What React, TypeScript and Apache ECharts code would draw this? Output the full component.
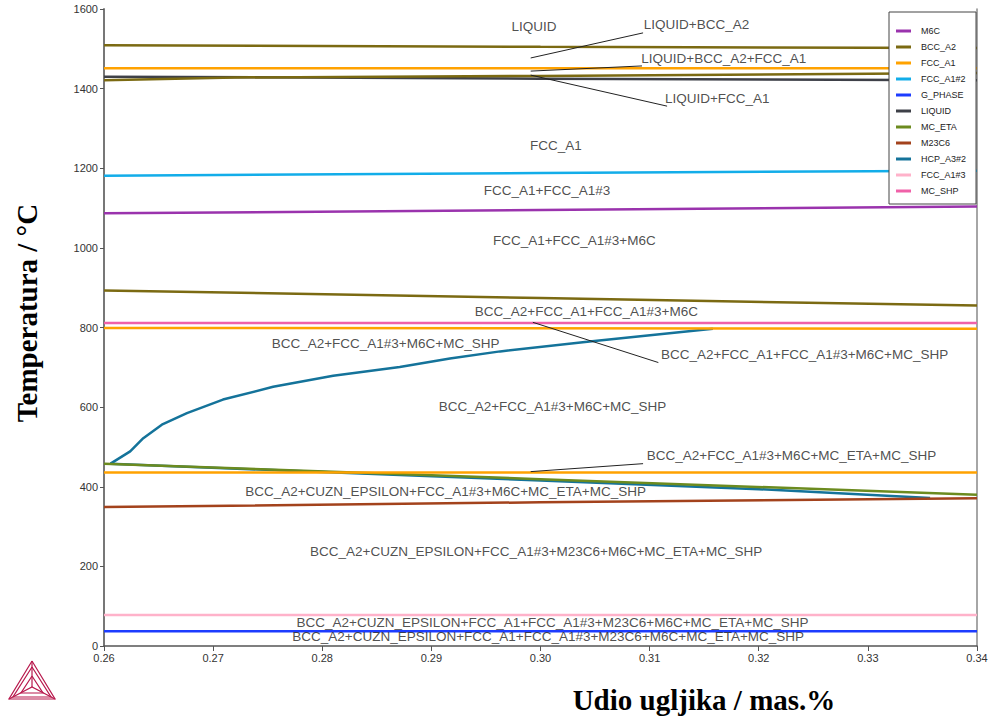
import React, { useEffect, useRef } from 'react';
import * as echarts from 'echarts';

// ---- phases (legend order) ----
const phases = ['M6C', 'BCC_A2', 'FCC_A1', 'FCC_A1#2', 'G_PHASE', 'LIQUID', 'MC_ETA', 'M23C6', 'HCP_A3#2', 'FCC_A1#3', 'MC_SHP'];

// ---- phase boundary lines: [mas.% C, °C] ----
const m6c = [[0.26, 1087], [0.30, 1095], [0.34, 1104]];
const bccA2Upper = [[0.26, 1509], [0.30, 1505], [0.34, 1502]];
const bccA2Lower = [[0.26, 1421], [0.272, 1428], [0.30, 1432], [0.34, 1439]];
const bccA2Mid = [[0.26, 893], [0.30, 874], [0.34, 855]];
const fccA1High = [[0.26, 1451], [0.34, 1451]];
const fccA1At800 = [[0.26, 799], [0.34, 797]];
const fccA1At436 = [[0.26, 436], [0.34, 436]];
const fccA1n2 = [[0.26, 1181], [0.30, 1188], [0.34, 1194]];
const gPhase = [[0.26, 37], [0.34, 37]];
const liquid = [[0.26, 1430], [0.30, 1425], [0.34, 1421]];
const mcEta = [[0.26, 458], [0.30, 419], [0.34, 380]];
const m23c6 = [[0.26, 349], [0.30, 361], [0.34, 371]];
const hcpUpper = [[0.2606, 458], [0.2624, 489], [0.2636, 522], [0.2653, 556], [0.2676, 585], [0.2709, 619], [0.2755, 651], [0.281, 679], [0.2871, 701], [0.2917, 722], [0.2963, 740], [0.3045, 765], [0.3158, 797]];
const hcpLower = [[0.2606, 458], [0.28, 437], [0.30, 416], [0.32, 394], [0.3357, 372]];
const fccA1n3 = [[0.26, 78], [0.34, 78]];
const mcShp = [[0.26, 811], [0.34, 811]];

// ---- region labels ----
const regionLabels = [
  'LIQUID',
  'LIQUID+BCC_A2',
  'LIQUID+BCC_A2+FCC_A1',
  'LIQUID+FCC_A1',
  'FCC_A1',
  'FCC_A1+FCC_A1#3',
  'FCC_A1+FCC_A1#3+M6C',
  'BCC_A2+FCC_A1+FCC_A1#3+M6C',
  'BCC_A2+FCC_A1#3+M6C+MC_SHP',
  'BCC_A2+FCC_A1+FCC_A1#3+M6C+MC_SHP',
  'BCC_A2+FCC_A1#3+M6C+MC_SHP',
  'BCC_A2+FCC_A1#3+M6C+MC_ETA+MC_SHP',
  'BCC_A2+CUZN_EPSILON+FCC_A1#3+M6C+MC_ETA+MC_SHP',
  'BCC_A2+CUZN_EPSILON+FCC_A1#3+M23C6+M6C+MC_ETA+MC_SHP',
  'BCC_A2+CUZN_EPSILON+FCC_A1+FCC_A1#3+M23C6+M6C+MC_ETA+MC_SHP',
  'BCC_A2+CUZN_EPSILON+FCC_A1+FCC_A1#3+M23C6+M6C+MC_ETA+MC_SHP',
];
const regionLabelC = [0.2994, 0.3143, 0.3168, 0.3162, 0.3014, 0.3006, 0.3031, 0.3042, 0.2858, 0.3242, 0.3011, 0.3230, 0.2913, 0.2996, 0.3011, 0.3007];
const regionLabelT = [1555, 1562, 1476, 1374, 1258, 1145, 1019, 840, 760, 732, 601, 478, 387, 237, 60, 23];

// ---- annotation arrows: from [C, T] to [C, T] ----
const arrowFrom = [[0.3094, 1540], [0.3093, 1457], [0.3116, 1356], [0.3108, 712], [0.3094, 458]];
const arrowTo = [[0.2991, 1477], [0.2991, 1444], [0.2991, 1434], [0.2993, 813], [0.2991, 438]];

const colors: Record<string, string> = {
  'M6C': '#9a33ad',
  'BCC_A2': '#7b6a12',
  'FCC_A1': '#ffa200',
  'FCC_A1#2': '#12ade9',
  'G_PHASE': '#1d3cff',
  'LIQUID': '#3e4048',
  'MC_ETA': '#6c8b1f',
  'M23C6': '#a3421c',
  'HCP_A3#2': '#14739a',
  'FCC_A1#3': '#ffb2ca',
  'MC_SHP': '#f061a8',
};

// draw order (later on top)
const segments: [string, number[][]][] = [
  ['HCP_A3#2', hcpUpper],
  ['HCP_A3#2', hcpLower],
  ['M23C6', m23c6],
  ['FCC_A1#3', fccA1n3],
  ['G_PHASE', gPhase],
  ['MC_ETA', mcEta],
  ['FCC_A1#2', fccA1n2],
  ['M6C', m6c],
  ['LIQUID', liquid],
  ['BCC_A2', bccA2Upper],
  ['BCC_A2', bccA2Lower],
  ['BCC_A2', bccA2Mid],
  ['MC_SHP', mcShp],
  ['FCC_A1', fccA1High],
  ['FCC_A1', fccA1At800],
  ['FCC_A1', fccA1At436],
];

const SANS = '"Liberation Sans", Arial, sans-serif';
const SERIF = '"Liberation Serif", "Times New Roman", serif';

export default function App() {
  const ref = useRef<HTMLDivElement>(null);
  useEffect(() => {
    if (!ref.current) return;
    const chart = echarts.init(ref.current, undefined, { renderer: 'svg' });
    const lineSeries = segments.map(([name, data]) => ({
      type: 'line',
      name,
      data,
      showSymbol: false,
      symbol: 'none',
      silent: true,
      smooth: false,
      color: colors[name],
      lineStyle: { color: colors[name], width: 2.5 },
      emphasis: { disabled: true },
      z: 2,
    }));
    const labelSeries = {
      type: 'scatter',
      name: 'labels',
      symbolSize: 0,
      silent: true,
      z: 5,
      data: regionLabels.map((t, i) => ({ value: [regionLabelC[i], regionLabelT[i]], name: t })),
      label: {
        show: true,
        position: 'inside',
        formatter: '{b}',
        fontSize: 13.5,
        fontFamily: SANS,
        color: '#222',
      },
      markLine: {
        silent: true,
        symbol: ['none', 'arrow'],
        symbolSize: [0, 8],
        lineStyle: { color: '#222', width: 1, type: 'solid' },
        label: { show: false },
        emphasis: { disabled: true },
        data: arrowFrom.map((f, i) => [{ coord: f }, { coord: arrowTo[i] }]),
      },
    };
    const logoStyle = { stroke: '#b8194d', lineWidth: 1.2, fill: 'none' };
    chart.setOption({
      animation: false,
      backgroundColor: '#fff',
      grid: { left: 104, right: 14, top: 9, bottom: 78, containLabel: false },
      xAxis: {
        type: 'value',
        min: 0.26,
        max: 0.34,
        interval: 0.01,
        axisLine: { show: true, onZero: false, lineStyle: { color: '#555', width: 1.5 } },
        axisTick: { show: true, inside: false, length: 5, lineStyle: { color: '#555' } },
        axisLabel: { color: '#333', fontSize: 11, fontFamily: SANS, margin: 6, formatter: (v: number) => v.toFixed(2) },
        splitLine: { show: false },
      },
      yAxis: [
        {
          type: 'value',
          min: 0,
          max: 1600,
          interval: 200,
          axisLine: { show: true, onZero: false, lineStyle: { color: '#777', width: 2 } },
          axisTick: { show: true, inside: false, length: 4, lineStyle: { color: '#555' } },
          axisLabel: { color: '#333', fontSize: 11, fontFamily: SANS, margin: 6, formatter: (v: number) => String(v) },
          splitLine: { show: false },
        },
        {
          type: 'value',
          position: 'right',
          min: 0,
          max: 1600,
          interval: 200,
          axisLine: { show: true, onZero: false, lineStyle: { color: '#888', width: 1.5 } },
          axisTick: { show: false },
          axisLabel: { show: false },
          splitLine: { show: false },
        },
      ],
      legend: {
        data: phases,
        orient: 'vertical',
        left: 889,
        top: 12,
        icon: 'rect',
        itemWidth: 15,
        itemHeight: 3,
        itemGap: 6,
        padding: [14, 10, 8, 7],
        backgroundColor: '#fff',
        borderColor: '#444',
        borderWidth: 1,
        selectedMode: false,
        textStyle: { fontSize: 9, color: '#222', fontFamily: SANS, lineHeight: 10, padding: [0, 0, 0, 5] },
      },
      graphic: [
        {
          type: 'text',
          x: 27,
          y: 313,
          rotation: Math.PI / 2,
          style: { text: 'Temperatura / °C', font: `bold 29px ${SERIF}`, fill: '#000', align: 'center', verticalAlign: 'middle' },
        },
        {
          type: 'text',
          x: 704,
          y: 700,
          style: { text: 'Udio ugljika / mas.%', font: `bold 29px ${SERIF}`, fill: '#000', align: 'center', verticalAlign: 'middle' },
        },
        { type: 'polyline', shape: { points: [[32, 661], [9, 699], [55, 699], [32, 661]] }, style: logoStyle },
        { type: 'polyline', shape: { points: [[32, 667], [13, 697], [51, 697], [32, 667]] }, style: logoStyle },
        { type: 'polyline', shape: { points: [[32, 661], [32, 687]] }, style: logoStyle },
        { type: 'polyline', shape: { points: [[9, 699], [32, 687], [55, 699]] }, style: logoStyle },
        { type: 'polyline', shape: { points: [[32, 676], [21, 693], [43, 693], [32, 676]] }, style: logoStyle },
      ],
      series: [...lineSeries, labelSeries],
    });
    return () => chart.dispose();
  }, []);
  return <div ref={ref} style={{ position: 'absolute', left: 0, top: 0, width: 991, height: 724 }} />;
}
